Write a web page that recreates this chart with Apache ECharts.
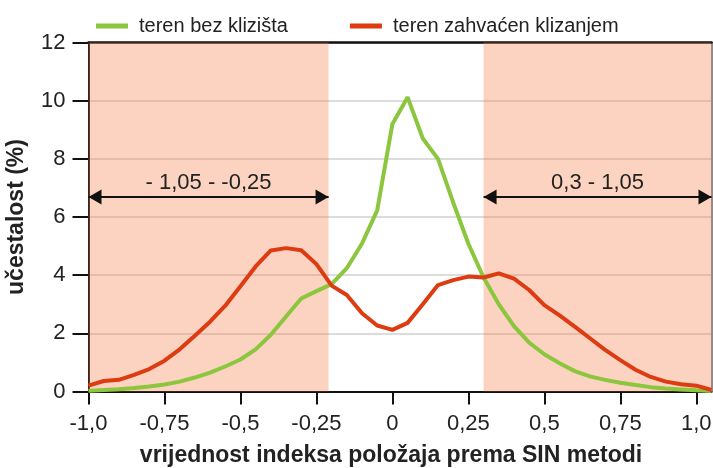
<!DOCTYPE html>
<html>
<head>
<meta charset="utf-8">
<script src="https://cdn.jsdelivr.net/npm/echarts@6/dist/echarts.min.js"></script>
<style>
  html, body { margin: 0; padding: 0; background: #fff; }
  #chart { width: 713px; height: 468px; }
</style>
</head>
<body>
<div id="chart"></div>
<script>
// SIN index value (x) for each sample
const sinIndex = [
  -1.0, -0.95, -0.9, -0.85, -0.8, -0.75, -0.7, -0.65, -0.6, -0.55,
  -0.5, -0.45, -0.4, -0.35, -0.3, -0.25, -0.2, -0.15, -0.1, -0.05,
  0.0, 0.05, 0.1, 0.15, 0.2, 0.25, 0.3, 0.35, 0.4, 0.45,
  0.5, 0.55, 0.6, 0.65, 0.7, 0.75, 0.8, 0.85, 0.9, 0.95,
  1.0, 1.05
];

// frequency (%) – terrain without landslides
const bezKlizista = [
  0.03, 0.05, 0.08, 0.12, 0.17, 0.24, 0.34, 0.48, 0.65, 0.86,
  1.10, 1.45, 1.95, 2.58, 3.20, 3.45, 3.69, 4.24, 5.09, 6.23,
  9.20, 10.12, 8.70, 8.00, 6.50, 5.08, 3.92, 3.00, 2.25, 1.68,
  1.28, 0.97, 0.70, 0.52, 0.40, 0.30, 0.22, 0.15, 0.10, 0.07,
  0.04, 0.02
];

// frequency (%) – terrain affected by sliding
const zahvacenKlizanjem = [
  0.20, 0.36, 0.40, 0.57, 0.77, 1.06, 1.45, 1.92, 2.40, 2.95,
  3.62, 4.30, 4.85, 4.93, 4.86, 4.38, 3.64, 3.32, 2.69, 2.27,
  2.12, 2.36, 3.00, 3.66, 3.83, 3.95, 3.92, 4.06, 3.88, 3.49,
  2.97, 2.62, 2.23, 1.83, 1.43, 1.08, 0.75, 0.50, 0.34, 0.25,
  0.20, 0.05
];

const seriesNames = ['teren bez klizišta', 'teren zahvaćen klizanjem'];

// x-axis tick positions and their labels
const xTickValues = [-1.0, -0.75, -0.5, -0.25, 0, 0.25, 0.5, 0.75, 1.0];
const xTickLabels = ['-1,0', '-0,75', '-0,5', '-0,25', '0', '0,25', '0,5', '0,75', '1,0'];

// highlighted ranges and their captions
const rangeLow = [-1.0, -0.21];
const rangeHigh = [0.3, 1.05];
const rangeLabels = ['- 1,05 - -0,25', '0,3 - 1,05'];
const arrowLevel = 6.69;

const FONT = '"Liberation Sans", Arial, sans-serif';

const pairs = (ys) => sinIndex.map((x, i) => [x, ys[i]]);

const chart = echarts.init(document.getElementById('chart'), null, { renderer: 'canvas' });

const shade = 'rgba(246,129,75,0.35)';

// arrow head: triangle whose tip sits on the end point
const head = { symbol: 'triangle', symbolSize: [15, 13], symbolOffset: [0, 6.5] };

const arrowLine = (range, text) => [
  Object.assign({ coord: [range[0], arrowLevel], label: { formatter: text } }, head),
  Object.assign({ coord: [range[1], arrowLevel] }, head)
];

chart.setOption({
  animation: false,
  textStyle: { fontFamily: FONT },
  legend: {
    left: 91,
    top: 11,
    icon: 'rect',
    itemWidth: 32,
    itemHeight: 5,
    itemGap: 62,
    textStyle: { fontFamily: FONT, fontSize: 20, color: '#222', padding: [0, 0, 0, 6] },
    data: seriesNames
  },
  grid: {
    left: 88.5, right: 1.5, top: 42.5, bottom: 76.5,
    containLabel: false,
    outerBoundsMode: 'none'
  },
  xAxis: [{
    type: 'value',
    min: -1.0,
    max: 1.05,
    interval: 0.25,
    name: 'vrijednost indeksa položaja prema SIN metodi',
    nameLocation: 'middle',
    nameGap: 53,
    nameTextStyle: { fontFamily: FONT, fontSize: 23, fontWeight: 'bold', color: '#222', padding: [0, 18, 0, 0] },
    axisLine: { onZero: false, lineStyle: { color: '#111', width: 2 } },
    axisTick: { show: true, length: 13, inside: false, lineStyle: { color: '#111', width: 2 }, customValues: xTickValues },
    axisLabel: {
      fontFamily: FONT, fontSize: 22, color: '#222', margin: 21,
      customValues: xTickValues,
      formatter: (v) => {
        const i = xTickValues.findIndex((t) => Math.abs(t - v) < 1e-6);
        return i >= 0 ? xTickLabels[i] : '';
      }
    },
    splitLine: { show: false }
  }, {
    type: 'value',
    position: 'top',
    min: -1.0,
    max: 1.05,
    axisLine: { onZero: false, lineStyle: { color: '#111', width: 2.5 } },
    axisTick: { show: false },
    axisLabel: { show: false },
    splitLine: { show: false }
  }],
  yAxis: [{
    type: 'value',
    min: 0,
    max: 12,
    interval: 2,
    name: 'učestalost (%)',
    nameLocation: 'middle',
    nameGap: 60,
    nameRotate: 90,
    nameTextStyle: { fontFamily: FONT, fontSize: 23, fontWeight: 'bold', color: '#222' },
    axisLine: { show: true, onZero: false, lineStyle: { color: '#111', width: 2 } },
    axisTick: { show: true, length: 16, lineStyle: { color: '#111', width: 2 } },
    axisLabel: { fontFamily: FONT, fontSize: 22, color: '#222', margin: 23 },
    splitLine: { show: true, lineStyle: { color: '#d0d0d0', width: 1.5 } }
  }, {
    type: 'value',
    position: 'right',
    min: 0,
    max: 12,
    axisLine: { show: true, onZero: false, lineStyle: { color: '#666', width: 1.5 } },
    axisTick: { show: false },
    axisLabel: { show: false },
    splitLine: { show: false }
  }],
  series: [
    {
      name: seriesNames[0],
      type: 'line',
      data: pairs(bezKlizista),
      symbol: 'none',
      z: 4,
      lineStyle: { color: '#8cc63f', width: 4 },
      itemStyle: { color: '#8cc63f' },
      markArea: {
        silent: true,
        itemStyle: { color: shade },
        data: [
          [{ xAxis: rangeLow[0], yAxis: 0 }, { xAxis: rangeLow[1], yAxis: 12 }],
          [{ xAxis: rangeHigh[0], yAxis: 0 }, { xAxis: rangeHigh[1], yAxis: 12 }]
        ]
      }
    },
    {
      name: seriesNames[1],
      type: 'line',
      data: pairs(zahvacenKlizanjem),
      symbol: 'none',
      z: 5,
      lineStyle: { color: '#dd3b12', width: 4 },
      itemStyle: { color: '#dd3b12' },
      markLine: {
        silent: true,
        symbol: ['triangle', 'triangle'],
        lineStyle: { color: '#111', width: 2, type: 'solid' },
        itemStyle: { color: '#111' },
        label: {
          show: true,
          position: 'middle',
          distance: 3,
          fontFamily: FONT,
          fontSize: 22,
          color: '#222'
        },
        data: [
          arrowLine(rangeLow, rangeLabels[0]),
          arrowLine(rangeHigh, rangeLabels[1])
        ]
      }
    }
  ]
});
</script>
</body>
</html>
